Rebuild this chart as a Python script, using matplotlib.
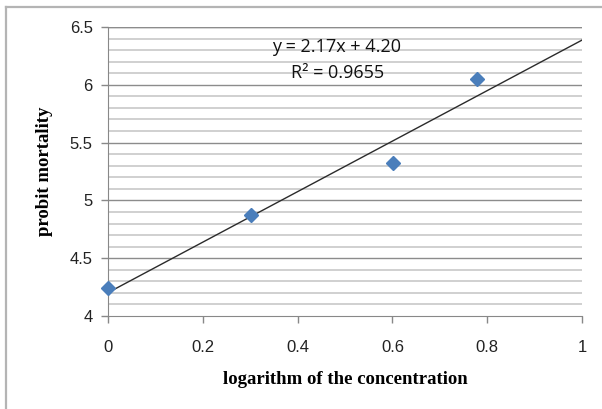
import numpy as np
import matplotlib.pyplot as plt
from matplotlib.lines import Line2D

# log10 of concentration and probit mortality
log_conc = [0.0, 0.301, 0.602, 0.778]
probit = [4.24, 4.87, 5.32, 6.05]
x_ticks = [0, 0.2, 0.4, 0.6, 0.8, 1]
x_ticklabels = ['0', '0.2', '0.4', '0.6', '0.8', '1']
y_ticks = [4, 4.5, 5, 5.5, 6, 6.5]
y_ticklabels = ['4', '4.5', '5', '5.5', '6', '6.5']
eq_text = 'y = 2.17x + 4.20'
r2_text = 'R² = 0.9655'

W, H = 602, 409
fig = plt.figure(figsize=(W / 100, H / 100), dpi=100)
ax = fig.add_axes([108 / W, 1 - 316 / H, (582 - 108) / W, (316 - 27) / H])

# horizontal gridlines only, every 0.1, darker at the major ticks
for v in np.arange(4.1, 6.5, 0.1):
    major = abs(v * 2 - round(v * 2)) < 1e-6
    ax.axhline(v, color='#8c8c8c' if major else '#c8c8c8', lw=1.0 if major else 1.2, zorder=0)
ax.axhline(6.5, color='#8c8c8c', lw=1.0, zorder=0)

# linear trendline
slope, icpt = np.polyfit(log_conc, probit, 1)
xl = np.array([0, 1])
ax.plot(xl, slope * xl + icpt, color='#2b2b2b', lw=1.0, zorder=2)

ax.plot(log_conc, probit, 'D', color='#4a7ebb', markersize=7, zorder=3, clip_on=False)

ax.set_xlim(0, 1)
ax.set_ylim(4, 6.5)
ax.set_xticks(x_ticks)
ax.set_xticklabels(x_ticklabels)
ax.set_yticks(y_ticks)
ax.set_yticklabels(y_ticklabels)
ax.tick_params(axis='both', labelsize=12, colors='#888888', labelcolor='#222222',
               length=5, width=1)
ax.tick_params(axis='x', pad=12)
ax.tick_params(axis='y', pad=6)
for t in ax.get_xticklabels() + ax.get_yticklabels():
    t.set_fontfamily('Liberation Sans')

for s in ['top', 'right']:
    ax.spines[s].set_visible(False)
for s in ['left', 'bottom']:
    ax.spines[s].set_color('#888888')

ax.set_xlabel('logarithm of the concentration', fontfamily='Liberation Serif',
              fontweight='bold', fontsize=13.5, labelpad=12)
ax.set_ylabel('probit mortality', fontfamily='Liberation Serif',
              fontweight='bold', fontsize=13.5, labelpad=12)

fig.text(337 / W, 1 - 47 / H, eq_text, ha='center', va='center', fontsize=13,
         fontfamily='Open Sans', color='#111111')
fig.text(338 / W, 1 - 73 / H, r2_text, ha='center', va='center', fontsize=13,
         fontfamily='Open Sans', color='#111111')

# outer chart border (only top and left visible)
fig.add_artist(Line2D([6 / W, 1], [1 - 6.5 / H, 1 - 6.5 / H], color='#b4b4b4', lw=1.6))
fig.add_artist(Line2D([6 / W, 6 / W], [0, 1 - 6.5 / H], color='#b4b4b4', lw=1.6))

fig.savefig('out.png', dpi=100)
